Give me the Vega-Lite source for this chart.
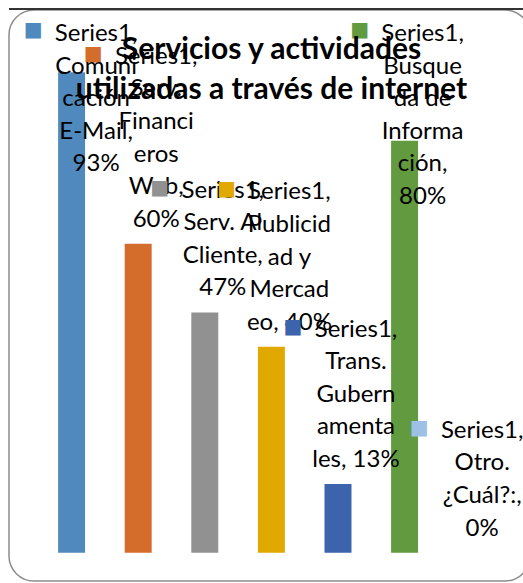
{
  "$schema": "https://vega.github.io/schema/vega-lite/v6.json",
  "width": 521,
  "height": 571,
  "autosize": {"type": "none"},
  "padding": {"left": 9, "top": 10, "right": 0, "bottom": 2},
  "background": "white",
  "config": {"view": {"stroke": "#8c8c8c", "strokeWidth": 1.5, "cornerRadius": 25}},
  "title": {
    "text": ["Servicios y actividades", "utilizadas a través de internet"],
    "font": "Lato",
    "fontSize": 30,
    "fontWeight": "bold",
    "lineHeight": 40,
    "anchor": "middle",
    "baseline": "top",
    "offset": -97,
    "dx": 2,
    "color": "#000000"
  },
  "data": {
    "values": [
      {"categoria": "Comunicación E-Mail", "valor": 0.9333, "etiqueta": "Series1,\nComuni\ncación\nE-Mail,\n93%"},
      {"categoria": "Serv. Financieros Web", "valor": 0.6, "etiqueta": "Series1,\nServ.\nFinanci\neros\nWeb,\n60%"},
      {"categoria": "Serv. Al Cliente", "valor": 0.4667, "etiqueta": "Series1,\nServ. Al\nCliente,\n47%"},
      {"categoria": "Publicidad y Mercadeo", "valor": 0.4, "etiqueta": "Series1,\nPublicid\nad y\nMercad\neo, 40%"},
      {"categoria": "Trans. Gubernamentales", "valor": 0.1333, "etiqueta": "Series1,\nTrans.\nGubern\namenta\nles, 13%"},
      {"categoria": "Busqueda de Información", "valor": 0.8, "etiqueta": "Series1,\nBusque\nda de\nInforma\nción,\n80%"},
      {"categoria": "Otro. ¿Cuál?:", "valor": 0, "etiqueta": "Series1,\nOtro.\n¿Cuál?:,\n0%"}
    ]
  },
  "transform": [
    {"calculate": "'■' + replace(slice(datum.etiqueta, indexof(datum.etiqueta, '\\n')), regexp('[^\\n]+', 'g'), '\u2800')", "as": "cuadro"},
    {"calculate": "slice('\u2800\\n\u2800\\n\u2800\\n\u2800\\n\u2800\\n\u2800\\n', 2 * length(split(datum.etiqueta, '\\n')))", "as": "relleno"},
    {"calculate": "datum.relleno + datum.etiqueta", "as": "etiquetaP"},
    {"calculate": "datum.relleno + datum.cuadro", "as": "cuadroP"}
  ],
  "encoding": {
    "x": {
      "field": "categoria",
      "type": "nominal",
      "sort": null,
      "axis": null,
      "scale": {"paddingInner": 0.595, "paddingOuter": 0.709, "align": 0.52}
    },
    "y": {
      "field": "valor",
      "type": "quantitative",
      "axis": null,
      "scale": {"domain": [-0.055, 1.054], "nice": false, "zero": false}
    },
    "color": {
      "field": "categoria",
      "type": "nominal",
      "sort": null,
      "legend": null,
      "scale": {
        "domain": ["Comunicación E-Mail", "Serv. Financieros Web", "Serv. Al Cliente", "Publicidad y Mercadeo", "Trans. Gubernamentales", "Busqueda de Información", "Otro. ¿Cuál?:"],
        "range": ["#4F89BD", "#D46D2C", "#919191", "#E1A900", "#3C64AD", "#619A3F", "#9DC0E4"]
      }
    }
  },
  "layer": [
    {
      "mark": {"type": "rule", "color": "#333333", "strokeWidth": 1.5},
      "encoding": {"y": {"datum": 1.0562}, "x": null, "color": {"value": "#333333"}}
    },
    {"mark": {"type": "bar"}, "encoding": {"y2": {"datum": 0}}},
    {
      "transform": [{"filter": {"field": "categoria", "oneOf": ["Serv. Financieros Web", "Serv. Al Cliente", "Publicidad y Mercadeo", "Trans. Gubernamentales"]}}],
      "mark": {"type": "text", "lineBreak": "\n", "baseline": "bottom", "align": "center", "dx": 18, "dy": -175, "font": "Lato", "fontSize": 24, "lineHeight": 32.6},
      "encoding": {"text": {"field": "etiquetaP"}, "color": {"value": "#000000"}}
    },
    {
      "transform": [{"filter": {"field": "categoria", "oneOf": ["Serv. Financieros Web", "Serv. Al Cliente", "Publicidad y Mercadeo", "Trans. Gubernamentales"]}}],
      "mark": {"type": "text", "lineBreak": "\n", "baseline": "bottom", "align": "center", "dx": -45, "dy": -180, "font": "DejaVu Sans", "fontSize": 20, "lineHeight": 32.6},
      "encoding": {"text": {"field": "cuadroP"}}
    },
    {
      "transform": [{"filter": {"field": "categoria", "equal": "Otro. ¿Cuál?:"}}],
      "mark": {"type": "text", "lineBreak": "\n", "baseline": "bottom", "align": "center", "dx": 11, "dy": -175, "font": "Lato", "fontSize": 24, "lineHeight": 32.6},
      "encoding": {"text": {"field": "etiquetaP"}, "color": {"value": "#000000"}}
    },
    {
      "transform": [{"filter": {"field": "categoria", "equal": "Otro. ¿Cuál?:"}}],
      "mark": {"type": "text", "lineBreak": "\n", "baseline": "bottom", "align": "center", "dx": -52, "dy": -180, "font": "DejaVu Sans", "fontSize": 20, "lineHeight": 32.6},
      "encoding": {"text": {"field": "cuadroP"}}
    },
    {
      "transform": [{"filter": {"field": "categoria", "equal": "Busqueda de Información"}}],
      "mark": {"type": "text", "lineBreak": "\n", "baseline": "top", "align": "center", "dx": 18, "dy": 12, "font": "Lato", "fontSize": 24, "lineHeight": 32.6},
      "encoding": {"y": {"datum": 1.054}, "text": {"field": "etiqueta"}, "color": {"value": "#000000"}}
    },
    {
      "transform": [{"filter": {"field": "categoria", "equal": "Busqueda de Información"}}],
      "mark": {"type": "text", "lineBreak": "\n", "baseline": "top", "align": "center", "dx": -45, "dy": 10, "font": "DejaVu Sans", "fontSize": 20, "lineHeight": 32.6},
      "encoding": {"y": {"datum": 1.054}, "text": {"field": "cuadro"}}
    },
    {
      "transform": [{"filter": {"field": "categoria", "equal": "Comunicación E-Mail"}}],
      "mark": {"type": "text", "lineBreak": "\n", "baseline": "top", "align": "center", "dx": 24.5, "dy": 12, "font": "Lato", "fontSize": 24, "lineHeight": 32.6},
      "encoding": {"y": {"datum": 1.054}, "text": {"field": "etiqueta"}, "color": {"value": "#000000"}}
    },
    {
      "transform": [{"filter": {"field": "categoria", "equal": "Comunicación E-Mail"}}],
      "mark": {"type": "text", "lineBreak": "\n", "baseline": "top", "align": "center", "dx": -38.5, "dy": 10, "font": "DejaVu Sans", "fontSize": 20, "lineHeight": 32.6},
      "encoding": {"y": {"datum": 1.054}, "text": {"field": "cuadro"}}
    }
  ]
}
